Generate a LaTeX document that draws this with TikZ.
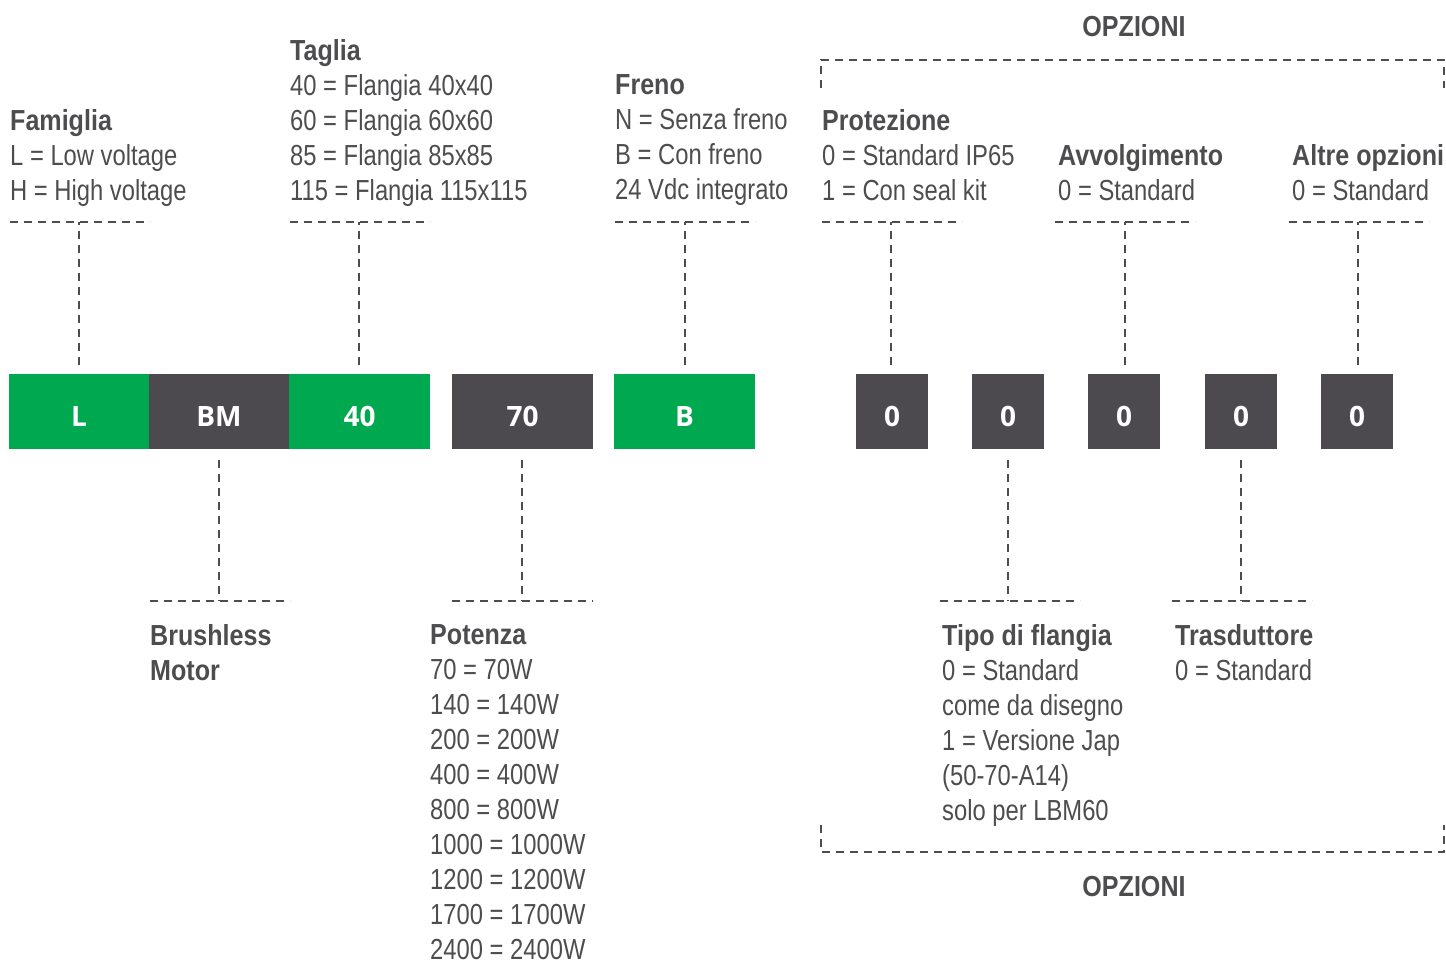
\documentclass[tikz,border=0pt]{standalone}
\usepackage{fontspec}
\newfontfamily\cond[FakeStretch=0.82,BoldFeatures={FakeStretch=0.865}]{Liberation Sans}
\newfontfamily\boxfont{Open Sans}
\usetikzlibrary{calc}
\definecolor{dgreen}{HTML}{00A94F}
\definecolor{dgray}{HTML}{4C4A4F}
\definecolor{tgray}{HTML}{4D4D4F}
\begin{document}
\begin{tikzpicture}[x=1pt,y=-1pt,
 txt/.style={anchor=north west,inner sep=0pt,align=left,text=tgray,font=\cond\fontsize{29}{35}\selectfont},
 ttl/.style={inner sep=0pt,text=tgray,font=\cond\bfseries\fontsize{29}{35}\selectfont},
 code/.style={minimum height=75pt,inner sep=0pt,text height=30pt,text depth=0pt,text=white,font=\boxfont\bfseries\fontsize{28}{30}\selectfont},
 gbox/.style={code,fill=dgreen,minimum width=141pt},
 kbox/.style={code,fill=dgray,minimum width=141pt},
 obox/.style={code,fill=dgray,minimum width=72pt},
 conn/.style={draw=tgray,line width=1.6pt,dash pattern=on 8pt off 6pt},
 bar/.style={draw=tgray,line width=1.6pt,dash pattern=on 8pt off 6pt}
]
\useasboundingbox (0,0) rectangle (1446,963);

% code boxes
\node[gbox] (bL) at (79,411.5) {L};
\node[kbox] (bBM) at (219,411.5) {BM};
\node[gbox] (b40) at (359.5,411.5) {40};
\node[kbox] (b70) at (522.5,411.5) {70};
\node[gbox] (bB) at (684.5,411.5) {B};
\node[obox] (o1) at (892,411.5) {0};
\node[obox] (o2) at (1008,411.5) {0};
\node[obox] (o3) at (1124,411.5) {0};
\node[obox] (o4) at (1241,411.5) {0};
\node[obox] (o5) at (1357,411.5) {0};

% upper texts
\node[txt] (tFam) at (10,109) {\textbf{Famiglia}\\L = Low voltage\\H = High voltage};
\node[txt] (tTag) at (290,39) {\textbf{Taglia}\\40 = Flangia 40x40\\60 = Flangia 60x60\\85 = Flangia 85x85\\115 = Flangia 115x115};
\node[txt] (tFre) at (615,74) {\textbf{Freno}\\N = Senza freno\\B = Con freno\\24 Vdc integrato};
\node[txt] (tPro) at (822,109) {\textbf{Protezione}\\0 = Standard IP65\\1 = Con seal kit};
\node[txt] (tAvv) at (1058,144) {\textbf{Avvolgimento}\\0 = Standard};
\node[txt] (tAlt) at (1292,144) {\textbf{Altre opzioni}\\0 = Standard};

% lower texts
\node[txt] (tBM) at (150,624) {\textbf{Brushless}\\\textbf{Motor}};
\node[txt] (tPot) at (430,624) {\textbf{Potenza}\\70 = 70W\\140 = 140W\\200 = 200W\\400 = 400W\\800 = 800W\\1000 = 1000W\\1200 = 1200W\\1700 = 1700W\\2400 = 2400W};
\node[txt] (tTip) at (942,624) {\textbf{Tipo di flangia}\\0 = Standard\\come da disegno\\1 = Versione Jap\\(50-70-A14)\\solo per LBM60};
\node[txt] (tTra) at (1175,624) {\textbf{Trasduttore}\\0 = Standard};

% OPZIONI titles
\node[ttl] (op1) at (1134,27) {OPZIONI};
\node[ttl] (op2) at (1134,887) {OPZIONI};

% junction points on the dashed bars
\coordinate (jL) at (79,222);
\coordinate (j40) at (359,222);
\coordinate (jB) at (685,222);
\coordinate (j1) at (891,222);
\coordinate (j3) at (1125,222);
\coordinate (j5) at (1358,222);
\coordinate (jBM) at (219,601);
\coordinate (j70) at (522,601);
\coordinate (j2) at (1008,601);
\coordinate (j4) at (1241,601);

\draw[bar] (10,222) -- (150,222);
\draw[bar] (290,222) -- (430,222);
\draw[bar] (615,222) -- (755,222);
\draw[bar] (822,222) -- (962,222);
\draw[bar] (1055,222) -- (1195,222);
\draw[bar] (1289,222) -- (1429,222);
\draw[bar] (150,601) -- (290,601);
\draw[bar] (452,601) -- (593,601);
\draw[bar] (940,601) -- (1080,601);
\draw[bar] (1172,601) -- (1312,601);

% connectors
\draw[conn] (jL |- bL.north) ++(0,-9) -- (jL);
\draw[conn] (j40 |- b40.north) ++(0,-9) -- (j40);
\draw[conn] (jB |- bB.north) ++(0,-9) -- (jB);
\draw[conn] (j1 |- o1.north) ++(0,-9) -- (j1);
\draw[conn] (j3 |- o3.north) ++(0,-9) -- (j3);
\draw[conn] (j5 |- o5.north) ++(0,-9) -- (j5);
\draw[conn] (jBM |- bBM.south) ++(0,11) -- (jBM);
\draw[conn] (j70 |- b70.south) ++(0,11) -- (j70);
\draw[conn] (j2 |- o2.south) ++(0,11) -- (j2);
\draw[conn] (j4 |- o4.south) ++(0,11) -- (j4);

% option brackets
\draw[bar] (821,88) -- (821,60) -- (1444,60) -- (1444,88);
\draw[bar] (821,825) -- (821,852) -- (1444,852) -- (1444,825);
\end{tikzpicture}
\end{document}
